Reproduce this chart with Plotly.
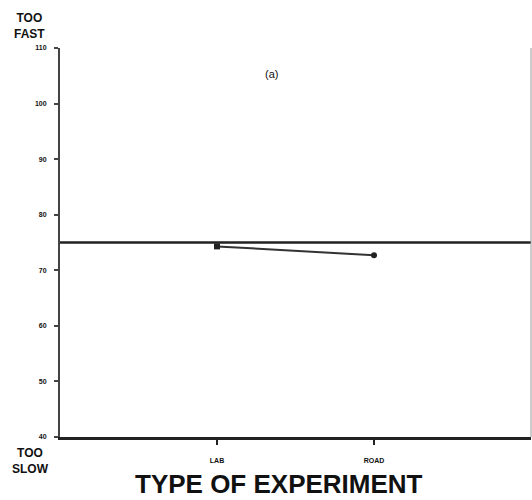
import plotly.graph_objects as go

categories = ["LAB", "ROAD"]
x_positions = [1, 2]
values = [74.3, 72.7]
y_ticks = [40, 50, 60, 70, 80, 90, 100, 110]
y_ticklabels = ["40", "50", "60", "70", "80", "90", "100", "110"]
reference_level = 75

fig = go.Figure()
fig.add_trace(go.Scatter(
    x=x_positions, y=values, mode="lines+markers",
    line=dict(color="#333333", width=2),
    marker=dict(symbol=["square", "circle"], size=6, color="#222222"),
    showlegend=False,
))
fig.add_hline(y=reference_level, line=dict(color="#222222", width=2.5))

fig.update_layout(
    width=532, height=500,
    margin=dict(l=60, r=1, t=48, b=63),
    paper_bgcolor="white", plot_bgcolor="white",
    font=dict(family="Liberation Sans, Arial, sans-serif", color="#111111"),
    xaxis=dict(
        range=[0, 3], tickmode="array", tickvals=x_positions,
        ticktext=["<b>" + c + "</b>" for c in categories],
        ticks="outside", ticklen=5, tickwidth=1.5, tickcolor="#222",
        ticklabelstandoff=10,
        tickfont=dict(size=7, family="Liberation Sans", color="#111"),
        showgrid=False, zeroline=False,
        showline=True, linecolor="#222", linewidth=3, mirror=False,
    ),
    yaxis=dict(
        range=[40, 110], tickmode="array", tickvals=y_ticks,
        ticktext=["<b>" + t + "</b>" for t in y_ticklabels],
        ticks="outside", ticklen=4, tickwidth=1.5, tickcolor="#444",
        ticklabelstandoff=6,
        tickfont=dict(size=7, family="Liberation Sans", color="#111"),
        showgrid=False, zeroline=False,
        showline=True, linecolor="#444", linewidth=2, mirror=False,
    ),
    shapes=[
        dict(type="line", xref="paper", yref="y", x0=0, x1=1, y0=110, y1=110,
             line=dict(color="#222", width=2.5)),
        dict(type="line", xref="paper", yref="paper", x0=1, x1=1, y0=0, y1=1,
             line=dict(color="#999", width=1)),
    ],
    annotations=[
        dict(text="<b>TOO<br>FAST</b>", xref="paper", yref="paper", x=-0.064, y=1.1,
             xanchor="center", yanchor="top", showarrow=False,
             font=dict(size=12, color="#111"), align="center"),
        dict(text="<b>TOO<br>SLOW</b>", xref="paper", yref="paper", x=-0.062, y=-0.017,
             xanchor="center", yanchor="top", showarrow=False,
             font=dict(size=12, color="#111"), align="center"),
        dict(text="(a)", xref="x", yref="y", x=1.35, y=105.3,
             xanchor="center", yanchor="middle", showarrow=False,
             font=dict(size=11, color="#111")),
        dict(text="<b>TYPE OF EXPERIMENT</b>", xref="paper", yref="paper",
             x=0.465, y=-0.078, xanchor="center", yanchor="top", showarrow=False,
             font=dict(size=26, color="#111")),
    ],
)

fig.write_html("out.html", config={"displayModeBar": False},
               post_script="document.body.style.margin='0';")
